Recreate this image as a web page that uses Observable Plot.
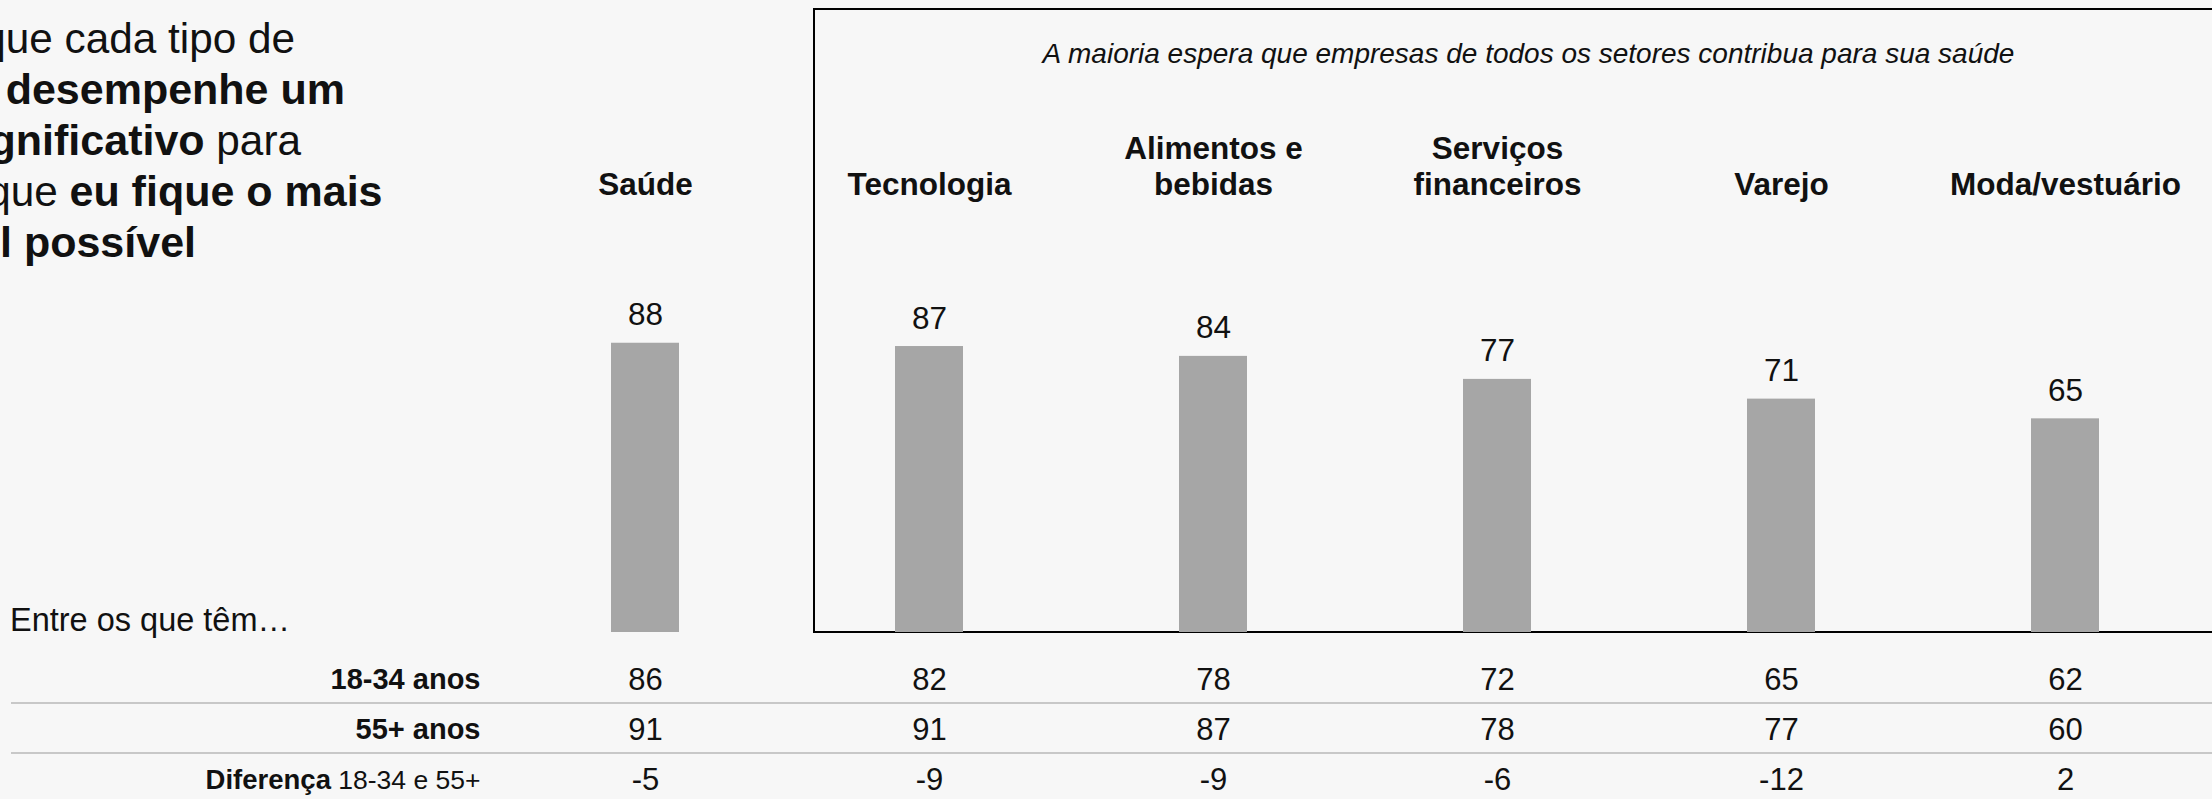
<!DOCTYPE html>
<html><head><meta charset="utf-8">
<script src="https://cdn.jsdelivr.net/npm/d3@7"></script>
<script src="https://cdn.jsdelivr.net/npm/@observablehq/plot@0.6"></script>
<style>
html,body{margin:0;padding:0;background:#f7f7f7;}
body{width:2212px;height:799px;overflow:hidden;position:relative;font-family:"Liberation Sans",Arial,sans-serif;}
#box{position:absolute;left:813px;top:7.7px;width:1500px;height:625px;border:2px solid #000;box-sizing:border-box;}
#main{position:absolute;left:0;top:0;}
#table{position:absolute;left:0;top:640px;}
#overlay{position:absolute;left:0;top:0;}
svg text{font-family:"Liberation Sans",Arial,sans-serif;}
</style></head><body>
<div id="box"></div>
<div id="main"></div>
<div id="table"></div>
<svg id="overlay" width="2212" height="799"></svg>
<script>
// ---- data ----
const categories = ["Saúde","Tecnologia","Alimentos e bebidas","Serviços financeiros","Varejo","Moda/vestuário"];
const categoryLabels = ["Saúde","Tecnologia","Alimentos e\nbebidas","Serviços\nfinanceiros","Varejo","Moda/vestuário"];
const totalValues = [88,87,84,77,71,65];
const age18to34 = [86,82,78,72,65,62];
const age55plus = [91,91,87,78,77,60];
const difference = [-5,-9,-9,-6,-12,2];
const rowLabels = ["18-34 anos","55+ anos","Diferença 18-34 e 55+"];
const subtitle = "A maioria espera que empresas de todos os setores contribua para sua saúde";
const groupNote = "Entre os que têm…";
const titleLines = [
  [["Espero que cada tipo de", false]],
  [["empresa desempenhe um", true]],
  [["papel significativo", true], [" para", false]],
  [["garantir que ", false], ["eu fique o mais", true]],
  [["saudável possível", true]]
];

// ---- layout ----
const FONT = "Liberation Sans, Arial, sans-serif";
const INK = "#111";
const xScale = {type:"band", domain:categories, range:[500.55, 2209.95], paddingInner:0.7596, paddingOuter:0.3798, axis:null};

const bars = categories.map((c,i)=>({category:c, label:categoryLabels[i], value:totalValues[i]}));

const main = Plot.plot({
  width:2212, height:640, margin:0,
  style:{background:"transparent", fontFamily:FONT, overflow:"visible"},
  x:xScale,
  y:{domain:[0,100], range:[632,303.3], axis:null},
  marks:[
    Plot.barY(bars, {x:"category", y:"value", fill:"#a6a6a6"}),
    Plot.text(bars, {x:"category", y:"value", text:d=>String(d.value), lineAnchor:"bottom", dy:-18, fontSize:31.5, fill:INK}),
    Plot.text(bars, {x:"category", text:"label", frameAnchor:"top", lineAnchor:"bottom", dy:194.5, fontSize:31.5, fontWeight:"bold", lineHeight:1.133, fill:INK})
  ]
});
document.getElementById("main").appendChild(main);

const rows = [];
categories.forEach((c,i)=>{
  rows.push({category:c, row:0, value:age18to34[i]});
  rows.push({category:c, row:1, value:age55plus[i]});
  rows.push({category:c, row:2, value:difference[i]});
});
const labelRows = rowLabels.map((l,i)=>({row:i, label:l}));

const table = Plot.plot({
  width:2212, height:159, marginLeft:11, marginRight:0, marginTop:0, marginBottom:0,
  style:{background:"transparent", fontFamily:FONT, overflow:"visible"},
  x:xScale,
  y:{type:"linear", domain:[0,2], range:[39.5,139.5], axis:null},
  marks:[
    Plot.ruleY([0.5,1.5], {stroke:"#b8b8b8", strokeWidth:1.5, dy:-2}),
    Plot.text(rows, {x:"category", y:"row", text:d=>String(d.value), fontSize:31, fill:INK}),
    Plot.text(labelRows, {y:"row", text:"label", frameAnchor:"left", dx:469, textAnchor:"end", fontSize:29, fontWeight:"bold", fill:INK})
  ]
});
document.getElementById("table").appendChild(table);
// mixed weights in the "Diferença" label
d3.select(table).selectAll("text").each(function(){
  const t = this.textContent;
  if (t.startsWith("Diferença ")) {
    const el = d3.select(this);
    el.text(null);
    el.append("tspan").attr("font-weight","bold").attr("font-size",27.5).text("Diferença");
    el.append("tspan").attr("font-weight","normal").attr("font-size",26.5).text(t.slice("Diferença".length));
  }
});

// ---- overlay texts ----
const ov = d3.select("#overlay");
const titleEnds = [295, 345, 301, 382.5, 196];
titleLines.forEach((parts,i)=>{
  const t = ov.append("text").attr("x", titleEnds[i]).attr("y", 52.5 + 51*i)
    .attr("text-anchor","end").attr("font-size",43).attr("fill",INK);
  parts.forEach(([s,b])=>t.append("tspan").attr("font-weight", b ? "bold" : "normal")
    .attr("font-size", b ? 43 : 42.3).text(s));
});
ov.append("text").attr("x",10).attr("y",631).attr("font-size",32.5).attr("fill",INK).text(groupNote);
ov.append("text").attr("x",1528.5).attr("y",63.3).attr("text-anchor","middle")
  .attr("font-size",28).attr("font-style","italic").attr("fill",INK).text(subtitle);
</script>
</body></html>
